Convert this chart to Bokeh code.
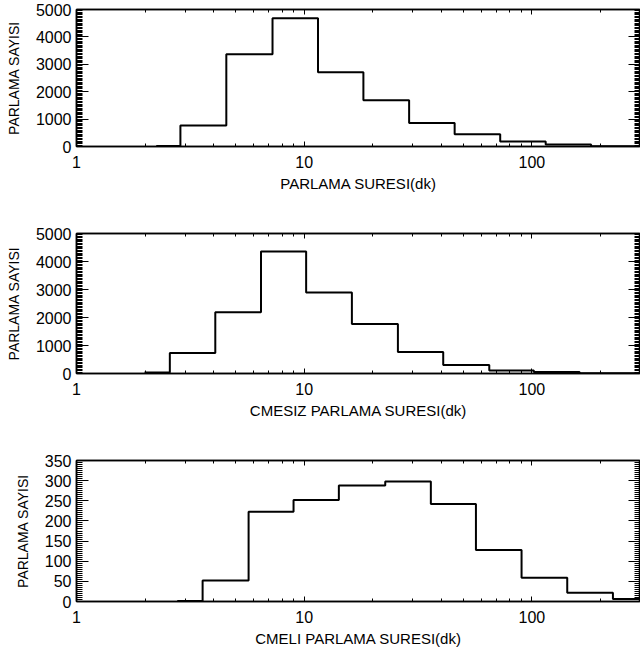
from bokeh.plotting import figure
from bokeh.models import (Range1d, FixedTicker, LogAxis, LinearAxis,
                          PrintfTickFormatter, CustomJSTickFormatter)
from bokeh.layouts import column
from bokeh.embed import file_html
from bokeh.resources import INLINE

# ---- data ----
x_ticks = [1, 10, 100]
x_minor = [2, 3, 4, 5, 6, 7, 8, 9, 20, 30, 40, 50, 60, 70, 80, 90, 200, 300]

y_label = "PARLAMA SAYISI"

# panel 1: all flares
p1_edges = [2.24, 2.86, 4.55, 7.26, 11.5, 18.2, 28.9, 45.8, 72.6, 115, 182, 300]
p1_counts = [20, 770, 3370, 4680, 2710, 1690, 860, 450, 180, 70, 5]
p1_yticks = [0, 1000, 2000, 3000, 4000, 5000]
p1_yminor = list(range(0, 5001, 50))
p1_xlabel = "PARLAMA SURESI(dk)"

# panel 2: flares without CME
p2_edges = [1.99, 2.57, 4.07, 6.46, 10.2, 16.2, 25.8, 40.8, 65, 102, 162, 300]
p2_counts = [40, 730, 2190, 4360, 2890, 1770, 770, 300, 110, 50, 10]
p2_yticks = [0, 1000, 2000, 3000, 4000, 5000]
p2_yminor = list(range(0, 5001, 50))
p2_xlabel = "CMESIZ PARLAMA SURESI(dk)"

# panel 3: flares with CME
p3_edges = [2.77, 3.58, 5.7, 8.98, 14.2, 22.7, 36, 56.8, 90.1, 143, 227, 300]
p3_counts = [1, 52, 223, 252, 288, 298, 242, 128, 59, 22, 6]
p3_yticks = [0, 50, 100, 150, 200, 250, 300, 350]
p3_yminor = list(range(0, 351, 5))
p3_xlabel = "CMELI PARLAMA SURESI(dk)"

FONT = "Liberation Sans"


def style_axis(ax, tick_in, minor_in):
    ax.axis_line_color = "black"
    ax.axis_line_width = 1.5
    ax.major_tick_line_color = "black"
    ax.minor_tick_line_color = "black"
    ax.major_tick_line_width = 1
    ax.minor_tick_line_width = 1
    ax.major_tick_out = 0
    ax.minor_tick_out = 0
    ax.major_tick_in = tick_in
    ax.minor_tick_in = minor_in


def blank_axis(cls, ticks, minor, tick_in, minor_in):
    ax = cls(ticker=FixedTicker(ticks=ticks, minor_ticks=minor),
             formatter=CustomJSTickFormatter(code="return '';"),
             major_label_text_font_size="1px", major_label_standoff=0)
    style_axis(ax, tick_in, minor_in)
    return ax


def make_panel(edges, counts, yticks, yminor, ymax, xlabel, height, top, bottom):
    p = figure(width=640, height=height, x_axis_type="log",
               x_range=Range1d(1, 300), y_range=Range1d(0, ymax),
               output_backend="svg", toolbar_location=None,
               min_border_left=76, min_border_right=0,
               min_border_top=top, min_border_bottom=bottom)
    p.grid.visible = False
    p.outline_line_color = "black"
    p.outline_line_width = 1.5
    p.background_fill_color = "white"
    p.border_fill_color = "white"

    ys = list(counts) + [counts[-1]]
    p.step(edges, ys, mode="after", line_color="black", line_width=2)

    xa = p.xaxis[0]
    xa.ticker = FixedTicker(ticks=x_ticks, minor_ticks=x_minor)
    xa.formatter = PrintfTickFormatter(format="%d")
    style_axis(xa, 5, 3)
    xa.major_label_text_font = FONT
    xa.major_label_text_font_size = "16px"
    xa.major_label_text_color = "black"
    xa.major_label_standoff = 9
    xa.axis_label = xlabel
    xa.axis_label_text_font = FONT
    xa.axis_label_text_font_size = "15px"
    xa.axis_label_text_font_style = "normal"
    xa.axis_label_text_color = "black"
    xa.axis_label_standoff = 4

    ya = p.yaxis[0]
    ya.ticker = FixedTicker(ticks=yticks, minor_ticks=yminor)
    style_axis(ya, 12, 6)
    ya.major_label_text_font = FONT
    ya.major_label_text_font_size = "16px"
    ya.major_label_text_color = "black"
    ya.major_label_standoff = 5
    ya.axis_label = y_label
    ya.axis_label_text_font = FONT
    ya.axis_label_text_font_size = "14px"
    ya.axis_label_text_font_style = "normal"
    ya.axis_label_text_color = "black"
    ya.axis_label_standoff = 11

    p.add_layout(blank_axis(LogAxis, x_ticks, x_minor, 5, 3), "above")
    p.add_layout(blank_axis(LinearAxis, yticks, yminor, 12, 6), "right")
    return p


f1 = make_panel(p1_edges, p1_counts, p1_yticks, p1_yminor, 5000, p1_xlabel, 218, 9, 72)
f2 = make_panel(p2_edges, p2_counts, p2_yticks, p2_yminor, 5000, p2_xlabel, 227, 15, 72)
f3 = make_panel(p3_edges, p3_counts, p3_yticks, p3_yminor, 350, p3_xlabel, 208, 15, 52)

layout = column(f1, f2, f3, spacing=0)
open("out.html", "w").write(file_html(layout, INLINE))
